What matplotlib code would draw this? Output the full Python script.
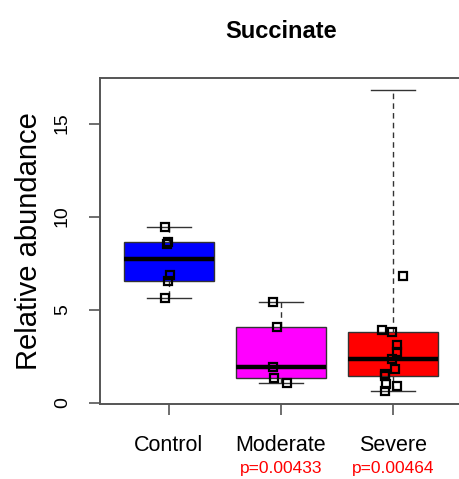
import numpy as np
import matplotlib.pyplot as plt

groups = ["Control", "Moderate", "Severe"]
colors = ["#0000FF", "#FF00FF", "#FF0000"]
pvalues = ["", "p=0.00433", "p=0.00464"]

control = [9.42, 8.65, 8.55, 6.85, 6.55, 5.6]
moderate = [5.4, 4.05, 1.9, 1.3, 1.03]
severe = [3.9, 3.77, 6.82, 3.09, 2.7, 2.34, 1.8, 1.53, 1.42, 1.0, 0.87, 0.63]
severe_max = 16.8  # upper extreme, no marker drawn for it

# horizontal jitter of the stripchart points
control_jit = [-0.036, -0.012, -0.02, 0.01, -0.006, -0.036]
moderate_jit = [-0.075, -0.04, -0.075, -0.06, 0.05]
severe_jit = [-0.10, -0.01, 0.09, 0.04, 0.04, -0.01, 0.02, -0.07, -0.07, -0.06, 0.04, -0.07]


def fivenum(x):
    x = np.sort(np.asarray(x, dtype=float))
    n = len(x)
    n4 = np.floor((n + 3) / 2) / 2
    d = np.array([1, n4, (n + 1) / 2, n + 1 - n4, n]) - 1
    return 0.5 * (x[np.floor(d).astype(int)] + x[np.ceil(d).astype(int)])


box_data = [control, moderate, severe + [severe_max]]
stats = []
for vals in box_data:
    lo, q1, med, q3, hi = fivenum(vals)
    stats.append(dict(whislo=lo, q1=q1, med=med, q3=q3, whishi=hi, fliers=[]))

plt.rcParams['font.family'] = ['Liberation Sans', 'DejaVu Sans']
fig = plt.figure(figsize=(4.6, 4.79), dpi=100)
ax = fig.add_axes([100 / 460, 75.5 / 479, 366 / 460, 325.5 / 479])

pos = np.arange(1, len(groups) + 1)
bp = ax.bxp(stats, positions=pos, widths=0.8, patch_artist=True,
            showfliers=False,
            boxprops=dict(edgecolor="#333333", linewidth=1.0),
            medianprops=dict(color="black", linewidth=3.2, solid_capstyle="butt"),
            whiskerprops=dict(color="#333333", linewidth=1.0, linestyle=(0, (4, 3))),
            capprops=dict(color="#333333", linewidth=1.0), capwidths=0.4)
for patch, c in zip(bp["boxes"], colors):
    patch.set_facecolor(c)

points = [control, moderate, severe]
jitters = [control_jit, moderate_jit, severe_jit]
for p, vals, jit in zip(pos, points, jitters):
    ax.plot(p + np.array(jit), vals, linestyle="none", marker="s",
            markersize=6, markerfacecolor="none", markeredgecolor="black",
            markeredgewidth=1.6, zorder=5)

ax.set_xlim(0.384, 3.652)
ax.set_ylim(-0.05, 17.45)
ax.set_yticks([0, 5, 10, 15])
ax.set_yticklabels(["0", "5", "10", "15"], rotation=90, va="center", fontsize=14)
ax.set_xticks(pos)
ax.set_xticklabels(groups, fontsize=15.5)
ax.tick_params(axis="both", direction="out", length=8, width=1.2, color="#555555")
ax.tick_params(axis="x", pad=15)
ax.tick_params(axis="y", pad=13)
for s in ax.spines.values():
    s.set_color("#555555")
    s.set_linewidth(1.4)

ax.set_ylabel("Relative abundance", fontsize=21, labelpad=8)
fig.text(281 / 460, 1 - 31 / 479, "Succinate", ha="center", va="center",
         fontsize=17, fontweight="bold")

for p, txt in zip(pos, pvalues):
    if txt:
        ax.text(p, -0.2, txt, transform=ax.get_xaxis_transform(),
                ha="center", va="center", color="#FF0000", fontsize=12.5)

fig.savefig("out.png", dpi=100)
